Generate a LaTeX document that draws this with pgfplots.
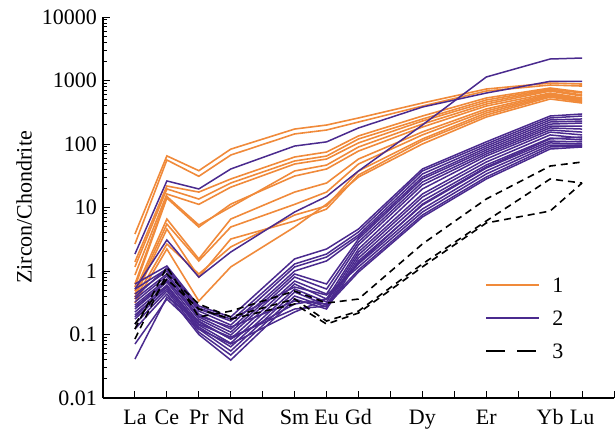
\documentclass[border=0pt]{standalone}
\usepackage{fontspec}
\setmainfont{Liberation Serif}
\usepackage{pgfplots}
\pgfplotsset{compat=1.18}
\definecolor{orng}{RGB}{240,138,58}
\definecolor{purp}{RGB}{74,42,142}
\newcommand{\bigfont}{\fontsize{22}{26}\selectfont}
\pgfplotsset{
  g1/.style={orng, line width=1.6pt, forget plot},
  g2/.style={purp, line width=1.5pt, forget plot},
  g3/.style={black, line width=1.6pt, dash pattern=on 7pt off 5pt, forget plot},
}

\begin{document}
\begin{tikzpicture}
\begin{axis}[
  at={(0pt,0pt)}, anchor=south west,
  width=511pt, height=381pt, scale only axis,
  xmin=-1, xmax=15, ymin=0.01, ymax=10000, ymode=log,
  axis x line=bottom, axis y line=left,
  axis line style={-, line width=1.3pt},
  tick align=inside,
  major tick length=7pt, minor tick length=4pt,
  tick style={black, line width=0.9pt},
  xtick={0,...,15},
  xticklabels={La,Ce,Pr,Nd,,Sm,Eu,Gd,,Dy,,Er,,Yb,Lu,},
  ytick={0.01,0.1,1,10,100,1000,10000},
  yticklabels={0.01,0.1,1,10,100,1000,10000},
  minor ytick={0.02,0.03,0.04,0.05,0.06,0.07,0.08,0.09,
    0.2,0.3,0.4,0.5,0.6,0.7,0.8,0.9,2,3,4,5,6,7,8,9,
    20,30,40,50,60,70,80,90,200,300,400,500,600,700,800,900,
    2000,3000,4000,5000,6000,7000,8000,9000},
  xticklabel style={font=\bigfont, inner sep=0pt, anchor=north, yshift=-11pt, text height=15pt, text depth=0pt},
  yticklabel style={font=\bigfont, inner sep=0pt, anchor=east, xshift=-6pt},
  ylabel={Zircon/Chondrite},
  every axis y label/.style={at={(axis description cs:-0.1546,0.5)}, rotate=90, anchor=center, font=\bigfont},
  legend image code/.code={\draw[#1] (0pt,0.5pt) -- (53pt,0.5pt);},
  legend style={draw=none, fill=none, font=\bigfont, at={(axis description cs:0.748,0.316)}, anchor=north west,
    inner sep=0pt, row sep=18pt, column sep=12pt, nodes={inner sep=0pt, text height=15pt, text depth=0pt}},
  legend cell align=left,
]
% group 1
\addplot[g1] coordinates {(0,3.82)(1,65)(2,38)(3,83)(5,172)(6,199)(7,257)(9,442)(11,734)(13,912)(14,880)};
\addplot[g1] coordinates {(0,2.66)(1,56)(2,31)(3,67)(5,144)(6,166)(7,222)(9,396)(11,683)(13,849)(14,818)};
\addplot[g1] coordinates {(0,1.39)(1,21.8)(2,17.5)(3,28.1)(5,62.4)(6,74.7)(7,134)(9,276)(11,530)(13,761)(14,658)};
\addplot[g1] coordinates {(0,1.16)(1,19.6)(2,13.6)(3,24.3)(5,54)(6,64.6)(7,120)(9,247)(11,493)(13,734)(14,635)};
\addplot[g1] coordinates {(0,0.865)(1,16.3)(2,11.2)(3,20.9)(5,48.4)(6,58)(7,104)(9,230)(11,458)(13,708)(14,591)};
\addplot[g1] coordinates {(0,0.624)(1,14.9)(2,5.3)(3,10.2)(5,37.6)(6,46.6)(7,89.7)(9,206)(11,426)(13,683)(14,570)};
\addplot[g1] coordinates {(0,0.56)(1,14.1)(2,4.93)(3,11.3)(5,31.3)(6,40.4)(7,77.5)(9,185)(11,396)(13,635)(14,530)};
\addplot[g1] coordinates {(0,0.484)(1,6.58)(2,1.55)(3,6.58)(5,17.5)(6,24.3)(7,58)(9,155)(11,356)(13,613)(14,511)};
\addplot[g1] coordinates {(0,0.434)(1,5.49)(2,1.44)(3,4.93)(5,11.2)(6,17.5)(7,48.4)(9,139)(11,331)(13,591)(14,493)};
\addplot[g1] coordinates {(0,0.389)(1,4.58)(2,0.803)(3,3.19)(5,6.13)(6,9.46)(7,32.5)(9,112)(11,286)(13,549)(14,458)};
\addplot[g1] coordinates {(0,0.362)(1,2.66)(2,0.897)(3,2.39)(5,7.61)(6,10.6)(7,37.6)(9,120)(11,308)(13,570)(14,475)};
\addplot[g1] coordinates {(0,0.313)(1,2.22)(2,0.337)(3,1.16)(5,4.93)(6,11.3)(7,30.2)(9,100)(11,266)(13,511)(14,442)};
% group 2
\addplot[g2] coordinates {(0,1.85)(1,26.2)(2,19.6)(3,40.4)(5,92.9)(6,108)(7,179)(9,382)(11,635)(13,970)(14,970)};
\addplot[g2] coordinates {(0,0.52)(1,3.08)(2,0.80)(3,1.99)(5,8.49)(6,14.9)(7,37.6)(9,199)(11,1135)(13,2180)(14,2260)};
\addplot[g2] coordinates {(0,0.624)(1,1.2)(2,0.281)(3,0.189)(5,1.55)(6,2.22)(7,4.58)(9,40.4)(11,108)(13,276)(14,297)};
\addplot[g2] coordinates {(0,0.52)(1,1.075)(2,0.252)(3,0.163)(5,1.29)(6,1.85)(7,4.11)(9,37.6)(11,100)(13,257)(14,276)};
\addplot[g2] coordinates {(0,0.434)(1,1.0)(2,0.234)(3,0.141)(5,1.16)(6,1.66)(7,3.69)(9,33.7)(11,92.9)(13,239)(14,248)};
\addplot[g2] coordinates {(0,0.362)(1,0.897)(2,0.21)(3,0.122)(5,1.0)(6,1.44)(7,3.43)(9,30.2)(11,86.4)(13,222)(14,230)};
\addplot[g2] coordinates {(0,0.325)(1,0.834)(2,0.189)(3,0.109)(5,0.897)(6,0.624)(7,3.19)(9,28.1)(11,80.3)(13,206)(14,214)};
\addplot[g2] coordinates {(0,0.291)(1,0.747)(2,0.175)(3,0.098)(5,0.803)(6,0.52)(7,2.86)(9,25.2)(11,74.7)(13,192)(14,192)};
\addplot[g2] coordinates {(0,0.252)(1,0.67)(2,0.157)(3,0.085)(5,0.695)(6,0.434)(7,2.57)(9,22.6)(11,69.6)(13,179)(14,172)};
\addplot[g2] coordinates {(0,0.226)(1,0.60)(2,0.141)(3,0.073)(5,0.624)(6,0.362)(7,2.22)(9,19.6)(11,64.6)(13,166)(14,154)};
\addplot[g2] coordinates {(0,0.203)(1,0.56)(2,0.131)(3,0.064)(5,0.52)(6,0.325)(7,1.99)(9,16.3)(11,58)(13,154)(14,139)};
\addplot[g2] coordinates {(0,0.175)(1,0.52)(2,0.122)(3,0.055)(5,0.466)(6,0.291)(7,1.79)(9,14.6)(11,52)(13,139)(14,124)};
\addplot[g2] coordinates {(0,0.146)(1,0.484)(2,0.109)(3,0.0475)(5,0.404)(6,0.271)(7,1.60)(9,12.7)(11,46.7)(13,124)(14,116)};
\addplot[g2] coordinates {(0,0.122)(1,0.434)(2,0.10)(3,0.0396)(5,0.362)(6,0.252)(7,1.44)(9,10.9)(11,41.8)(13,111)(14,108)};
\addplot[g2] coordinates {(0,0.041)(1,0.389)(2,0.163)(3,0.085)(5,0.302)(6,0.362)(7,1.29)(9,9.46)(11,37.6)(13,104)(14,100)};
\addplot[g2] coordinates {(0,0.389)(1,1.115)(2,0.262)(3,0.175)(5,0.56)(6,0.419)(7,1.16)(9,8.49)(11,33.7)(13,96.4)(14,96)};
\addplot[g2] coordinates {(0,0.271)(1,0.695)(2,0.196)(3,0.131)(5,0.337)(6,0.302)(7,1.04)(9,7.61)(11,30.2)(13,89.7)(14,92.9)};
\addplot[g2] coordinates {(0,0.189)(1,0.58)(2,0.146)(3,0.091)(5,0.252)(6,0.281)(7,0.964)(9,7.08)(11,28.1)(13,83.4)(14,89.7)};
\addplot[g2] coordinates {(0,0.0708)(1,0.362)(2,0.122)(3,0.0708)(5,0.226)(6,0.362)(7,1.34)(9,11.3)(11,43.4)(13,120)(14,129)};
% group 3
\addplot[g3] coordinates {(0,0.122)(1,1.16)(2,0.189)(3,0.234)(5,0.484)(6,0.313)(7,0.362)(9,2.66)(11,13.6)(13,45)(14,52)};
\addplot[g3] coordinates {(0,0.085)(1,0.897)(2,0.302)(3,0.189)(5,0.362)(6,0.163)(7,0.234)(9,1.29)(11,6.13)(13,28.1)(14,24.3)};
\addplot[g3] coordinates {(0,0.146)(1,0.747)(2,0.252)(3,0.175)(5,0.302)(6,0.146)(7,0.218)(9,1.16)(11,5.70)(13,8.80)(14,24.3)};
% legend
\addlegendimage{orng, line width=2pt}\addlegendentry{1}
\addlegendimage{purp, line width=2pt}\addlegendentry{2}
\addlegendimage{black, line width=2pt, dash pattern=on 19pt off 12pt}\addlegendentry{3}
\end{axis}
\pgfresetboundingbox
\path[use as bounding box] (-103pt,-34pt) rectangle (512pt,398pt);
\end{tikzpicture}
\end{document}
